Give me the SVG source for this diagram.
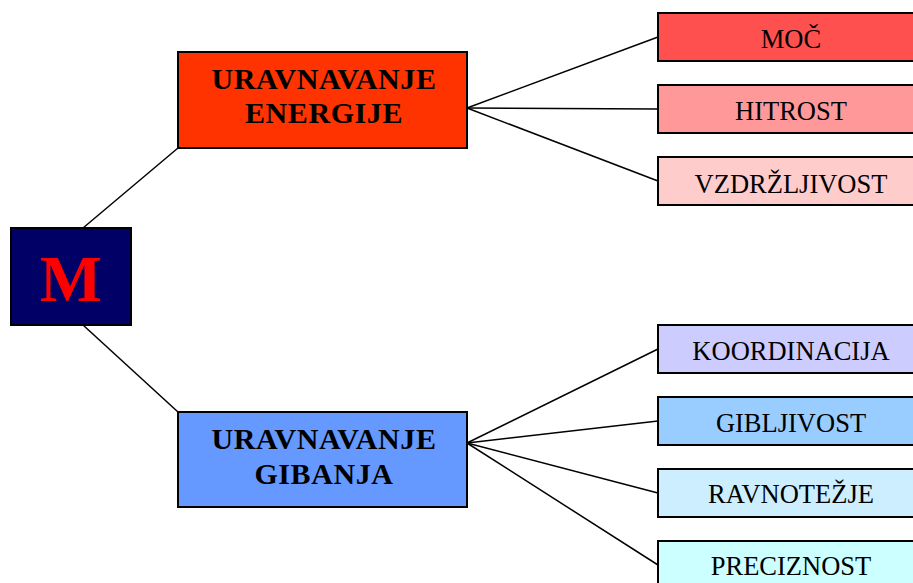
<svg xmlns="http://www.w3.org/2000/svg" width="913" height="583" viewBox="0 0 913 583">
<style>
rect{stroke:#000;stroke-width:2}
.c line{stroke:#000;stroke-width:1.5}
.big{font-family:"Liberation Serif",serif;font-weight:bold;font-size:30px;letter-spacing:0.6px;text-anchor:middle;fill:#000}
.lf{font-family:"Liberation Serif",serif;font-size:26.5px;text-anchor:middle;fill:#000}
</style>
<rect x="0" y="0" width="913" height="583" fill="#fff" style="stroke:none"/>
<g class="c" id="connectors">
<line x1="83" y1="228" x2="178" y2="148"/>
<line x1="83" y1="325" x2="178" y2="412"/>
<line x1="467" y1="108" x2="658" y2="37"/>
<line x1="467" y1="108" x2="658" y2="109"/>
<line x1="467" y1="108" x2="658" y2="181"/>
<line x1="467" y1="443" x2="658" y2="349"/>
<line x1="467" y1="443" x2="658" y2="421"/>
<line x1="467" y1="443" x2="658" y2="493"/>
<line x1="467" y1="443" x2="658" y2="565"/>
</g>
<g id="m">
<rect x="11" y="228" width="120" height="97" fill="#000066"/>
<text x="71" y="301" font-family="Liberation Serif,serif" font-weight="bold" font-size="66" fill="#ff0000" text-anchor="middle">M</text>
</g>
<g id="energija">
<rect x="178" y="52" width="289" height="96" fill="#ff3300"/>
<text class="big" x="324" y="89">URAVNAVANJE</text>
<text class="big" x="324" y="123">ENERGIJE</text>
</g>
<g id="gibanje">
<rect x="178" y="412" width="289" height="95" fill="#6699ff"/>
<text class="big" x="324" y="449">URAVNAVANJE</text>
<text class="big" x="324" y="484">GIBANJA</text>
</g>
<g id="moc"><rect x="658" y="13" width="266" height="48" fill="#ff5050"/><text class="lf" x="791" y="48">MOČ</text></g>
<g id="hitrost"><rect x="658" y="85" width="266" height="48" fill="#ff9999"/><text class="lf" x="791" y="120">HITROST</text></g>
<g id="vzdrzljivost"><rect x="658" y="157" width="266" height="48" fill="#ffcccc"/><text class="lf" x="791" y="193">VZDRŽLJIVOST</text></g>
<g id="koordinacija"><rect x="658" y="325" width="266" height="48" fill="#ccccff"/><text class="lf" x="791" y="360">KOORDINACIJA</text></g>
<g id="gibljivost"><rect x="658" y="397" width="266" height="48" fill="#99ccff"/><text class="lf" x="791" y="432">GIBLJIVOST</text></g>
<g id="ravnotezje"><rect x="658" y="469" width="266" height="48" fill="#cceeff"/><text class="lf" x="791" y="503">RAVNOTEŽJE</text></g>
<g id="preciznost"><rect x="658" y="541" width="266" height="48" fill="#ccffff"/><text class="lf" x="791" y="575">PRECIZNOST</text></g>
</svg>
